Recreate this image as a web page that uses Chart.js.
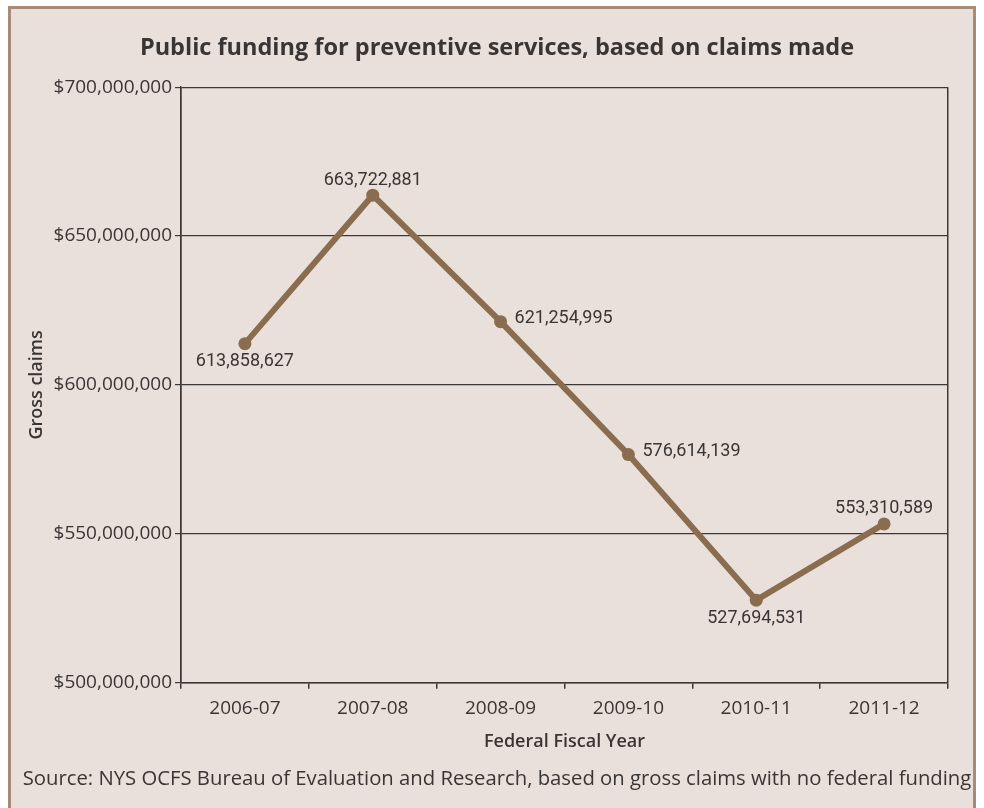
<!DOCTYPE html>
<html>
<head>
<meta charset="utf-8">
<script src="https://cdn.jsdelivr.net/npm/chart.js@4.4.1/dist/chart.umd.min.js"></script>
<style>
html, body { margin: 0; padding: 0; background: #ffffff; overflow: hidden; }
#frame {
    position: absolute; left: 8px; top: 6px; width: 968px; height: 830px;
    box-sizing: border-box; border: 3px solid #a68c78; background: #e9e0dc;
}
#wrap { position: absolute; left: 0; top: 0; width: 984px; height: 808px; }
</style>
</head>
<body>
<div id="frame"></div>
<div id="wrap"><canvas id="claimsChart" width="984" height="808"></canvas></div>
<script>
const fiscalYears = ['2006-07', '2007-08', '2008-09', '2009-10', '2010-11', '2011-12'];
const grossClaims = [613858627, 663722881, 621254995, 576614139, 527694531, 553310589];
const yTickValues = [500000000, 550000000, 600000000, 650000000, 700000000];

// where each value label sits relative to its point
const labelSpots = ['below', 'above', 'right', 'right', 'below', 'above'];

const textColor = '#3a3535';
const lineDark = '#3c3838';

// value labels next to the points
const pointLabels = {
    id: 'pointLabels',
    afterDatasetsDraw(chart) {
        const ctx = chart.ctx;
        const meta = chart.getDatasetMeta(0);
        ctx.save();
        ctx.font = '18px Roboto';
        ctx.fillStyle = textColor;
        meta.data.forEach((pt, i) => {
            const text = grossClaims[i].toLocaleString('en-US');
            const spot = labelSpots[i];
            ctx.textBaseline = 'middle';
            if (spot === 'right') {
                ctx.textAlign = 'left';
                ctx.fillText(text, pt.x + 14, pt.y - 3);
            } else if (spot === 'above') {
                ctx.textAlign = 'center';
                ctx.fillText(text, pt.x, pt.y - 15);
            } else {
                ctx.textAlign = 'center';
                ctx.fillText(text, pt.x, pt.y + 18);
            }
        });
        ctx.restore();
    }
};

new Chart(document.getElementById('claimsChart'), {
    type: 'line',
    data: {
        labels: fiscalYears,
        datasets: [{
            data: grossClaims,
            borderColor: '#8a6c4f',
            backgroundColor: '#8a6c4f',
            borderWidth: 6,
            pointRadius: 6.5,
            pointHoverRadius: 6.5,
            pointBorderWidth: 0,
            tension: 0
        }]
    },
    options: {
        responsive: false,
        animation: false,
        layout: { padding: { left: 10, right: 0, top: 0, bottom: 17 } },
        plugins: {
            legend: { display: false },
            tooltip: { enabled: false },
            title: {
                display: true,
                text: 'Public funding for preventive services, based on claims made',
                color: textColor,
                font: { family: 'Open Sans', size: 23.5, weight: 'bold', lineHeight: 1.2 },
                padding: { top: 34, bottom: 25 }
            },
            subtitle: {
                display: true,
                position: 'bottom',
                text: 'Source: NYS OCFS Bureau of Evaluation and Research, based on gross claims with no federal funding',
                color: textColor,
                font: { family: 'Open Sans', size: 20.3, lineHeight: 1.2 },
                padding: { top: 10, bottom: 0 }
            }
        },
        scales: {
            x: {
                offset: true,
                afterFit(scale) { scale.height = 74; },
                grid: {
                    offset: true,
                    drawOnChartArea: true,
                    // only the outer edges of the plot get a line; the closing one has no tick context
                    color: ctx => (ctx.type !== 'tick' || ctx.index === 0) ? lineDark : 'rgba(0,0,0,0)',
                    tickColor: lineDark,
                    tickLength: 6,
                    lineWidth: 1.5
                },
                border: { color: lineDark, width: 1.5 },
                ticks: {
                    color: textColor,
                    font: { family: 'Open Sans', size: 19 },
                    padding: 9,
                    maxRotation: 0
                },
                title: {
                    display: true,
                    text: 'Federal Fiscal Year',
                    color: textColor,
                    font: { family: 'Open Sans', size: 18, weight: '600', lineHeight: 1.2 },
                    padding: { top: 0, bottom: 4 }
                }
            },
            y: {
                min: 500000000,
                max: 700000000,
                afterFit(scale) { scale.width = 171; },
                afterBuildTicks(scale) {
                    scale.ticks = yTickValues.map(v => ({ value: v }));
                },
                grid: {
                    color: lineDark,
                    tickColor: lineDark,
                    tickLength: 6,
                    lineWidth: 1.2
                },
                border: { color: lineDark, width: 1.5 },
                ticks: {
                    color: textColor,
                    font: { family: 'Open Sans', size: 19 },
                    padding: 3,
                    callback: v => '$' + Number(v).toLocaleString('en-US')
                },
                title: {
                    display: true,
                    text: 'Gross claims',
                    color: textColor,
                    font: { family: 'Open Sans', size: 18, weight: '600', lineHeight: 1.2 },
                    padding: { top: 16, bottom: 0 }
                }
            },
            // empty right-hand strip so the plot stops where the original does
            rightGap: {
                position: 'right',
                afterFit(scale) { scale.width = 36; },
                grid: { display: false },
                border: { display: false },
                ticks: { display: false }
            }
        }
    },
    plugins: [pointLabels]
});
</script>
</body>
</html>
